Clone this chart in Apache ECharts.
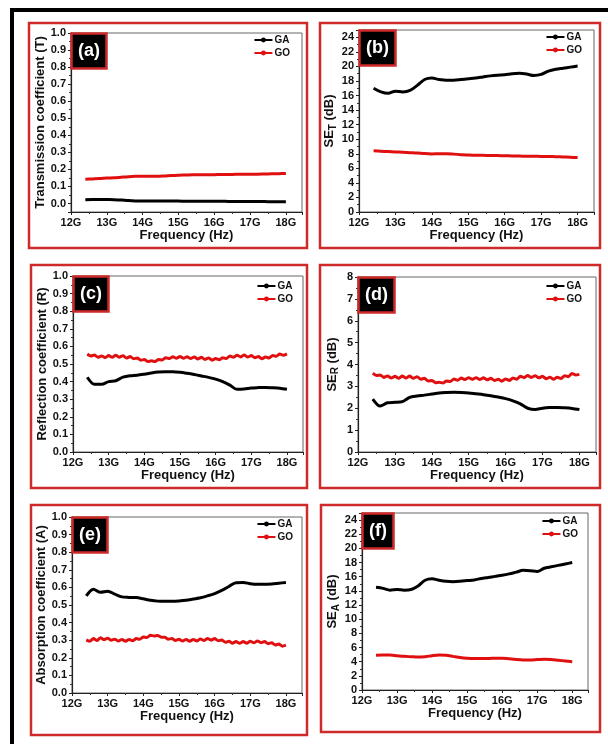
<!DOCTYPE html>
<html><head><meta charset="utf-8">
<script src="https://cdn.jsdelivr.net/npm/echarts@6/dist/echarts.min.js"></script>
<style>html,body{margin:0;padding:0;background:#fff}#c{width:608px;height:744px}</style>
</head><body><div id="c"></div><script>
// ---- data ----
const freq = [12.4,12.6,12.8,13.0,13.2,13.4,13.6,13.8,14.0,14.2,14.4,14.6,14.8,15.0,15.2,15.4,15.6,15.8,16.0,16.2,16.4,16.6,16.8,17.0,17.2,17.4,17.6,17.8,18.0];
const freqFine = [12.4,12.5,12.6,12.7,12.8,12.9,13.0,13.1,13.2,13.3,13.4,13.5,13.6,13.7,13.8,13.9,14.0,14.1,14.2,14.3,14.4,14.5,14.6,14.7,14.8,14.9,15.0,15.1,15.2,15.3,15.4,15.5,15.6,15.7,15.8,15.9,16.0,16.1,16.2,16.3,16.4,16.5,16.6,16.7,16.8,16.9,17.0,17.1,17.2,17.3,17.4,17.5,17.6,17.7,17.8,17.9,18.0];
const seriesNames = ['GA','GO'];
const panelTags = ['(a)','(b)','(c)','(d)','(e)','(f)'];

// (a) transmission coefficient
const transGA = [0.022,0.024,0.024,0.023,0.022,0.020,0.017,0.015,0.014,0.014,0.014,0.014,0.014,0.014,0.013,0.013,0.013,0.013,0.013,0.013,0.012,0.012,0.012,0.012,0.011,0.011,0.010,0.010,0.010];
const transGO = [0.142,0.144,0.146,0.149,0.151,0.154,0.157,0.159,0.160,0.159,0.159,0.161,0.164,0.166,0.167,0.168,0.168,0.169,0.169,0.170,0.170,0.171,0.171,0.172,0.172,0.173,0.174,0.175,0.176];
// (b) SE_T
const seTGA = [17.0,16.5,16.3,16.6,16.5,16.7,17.4,18.2,18.4,18.2,18.1,18.1,18.2,18.3,18.4,18.55,18.7,18.8,18.85,19.0,19.05,18.95,18.75,18.9,19.35,19.6,19.75,19.9,20.05];
const seTGO = [8.4,8.35,8.3,8.25,8.2,8.15,8.1,8.02,7.98,8.0,8.0,7.95,7.88,7.82,7.8,7.78,7.76,7.75,7.73,7.7,7.68,7.66,7.65,7.64,7.62,7.6,7.56,7.52,7.47];
// (c) reflection coefficient
const reflGA = [0.425,0.385,0.385,0.400,0.405,0.425,0.433,0.436,0.442,0.449,0.454,0.456,0.456,0.453,0.447,0.440,0.432,0.424,0.414,0.400,0.380,0.356,0.358,0.364,0.366,0.367,0.365,0.362,0.356];
const reflGO = [0.556,0.546,0.551,0.538,0.546,0.536,0.548,0.538,0.550,0.539,0.547,0.534,0.542,0.530,0.534,0.522,0.525,0.514,0.518,0.514,0.526,0.523,0.536,0.531,0.541,0.533,0.542,0.533,0.541,0.531,0.540,0.529,0.538,0.526,0.534,0.522,0.531,0.524,0.536,0.531,0.546,0.539,0.550,0.540,0.551,0.540,0.548,0.536,0.542,0.530,0.540,0.534,0.549,0.544,0.557,0.550,0.558];
// (d) SE_R
const seRGA = [2.42,2.10,2.25,2.27,2.30,2.50,2.56,2.60,2.65,2.70,2.72,2.73,2.72,2.70,2.66,2.62,2.57,2.51,2.44,2.34,2.20,2.00,1.94,2.00,2.03,2.04,2.02,1.99,1.94];
const seRGO = [3.60,3.50,3.52,3.41,3.48,3.38,3.46,3.37,3.47,3.38,3.47,3.37,3.44,3.33,3.37,3.25,3.27,3.17,3.19,3.15,3.25,3.22,3.34,3.28,3.38,3.31,3.40,3.32,3.40,3.31,3.39,3.30,3.37,3.27,3.33,3.24,3.34,3.27,3.38,3.33,3.46,3.40,3.50,3.41,3.49,3.39,3.46,3.35,3.42,3.33,3.42,3.36,3.49,3.44,3.59,3.52,3.55];
// (e) absorption coefficient
const absGA = [0.552,0.590,0.572,0.578,0.562,0.546,0.543,0.542,0.535,0.527,0.522,0.521,0.521,0.523,0.527,0.534,0.541,0.552,0.565,0.583,0.605,0.627,0.628,0.621,0.618,0.618,0.620,0.624,0.628];
const absGO = [0.302,0.294,0.309,0.298,0.314,0.303,0.311,0.300,0.306,0.295,0.304,0.294,0.304,0.297,0.309,0.305,0.318,0.316,0.328,0.324,0.327,0.317,0.317,0.306,0.309,0.298,0.305,0.295,0.304,0.294,0.304,0.296,0.307,0.298,0.310,0.300,0.309,0.297,0.301,0.288,0.294,0.283,0.292,0.282,0.292,0.283,0.294,0.285,0.296,0.286,0.293,0.280,0.286,0.273,0.278,0.266,0.272];
// (f) SE_A
const seAGA = [14.5,14.35,14.1,14.2,14.1,14.2,14.7,15.5,15.7,15.5,15.35,15.3,15.35,15.45,15.55,15.75,15.9,16.05,16.2,16.4,16.65,16.9,16.85,16.75,17.2,17.4,17.6,17.8,18.0];
const seAGO = [4.9,4.95,4.95,4.85,4.75,4.7,4.65,4.7,4.85,4.95,4.9,4.75,4.6,4.5,4.45,4.45,4.45,4.5,4.5,4.4,4.3,4.25,4.25,4.3,4.35,4.3,4.2,4.1,4.0];

// ---- layout / style ----
const FONT = '"Liberation Sans", Arial, sans-serif';
const RED_BOX = '#cf2a2a';
const GO_RED = '#e01010';
const panels = [
  {grid:{left:71,top:33,width:231,height:179}, yName:'Transmission coefficient (T)', yMin:-0.05, yMax:1, yStep:0.1, dec:1, nameGap:21, legend:{right:318,top:35},
   ga:[freq,transGA], go:[freq,transGO], box:[29,23,278,225]},
  {grid:{left:359,top:30,width:235,height:182}, yName:'SE{s|T} (dB)', yMin:0, yMax:25, yStep:2, dec:0, nameGap:19, legend:{right:26,top:32},
   ga:[freq,seTGA], go:[freq,seTGO], box:[320,23,280,225]},
  {grid:{left:73,top:276,width:230,height:176}, yName:'Reflection coefficient (R)', yMin:0, yMax:1, yStep:0.1, dec:1, nameGap:23, legend:{right:315,top:281},
   ga:[freq,reflGA], go:[freqFine,reflGO], box:[31,265,276,223]},
  {grid:{left:358,top:277,width:238,height:175}, yName:'SE{s|R} (dB)', yMin:0, yMax:8, yStep:1, dec:0, nameGap:18, legend:{right:26,top:281},
   ga:[freq,seRGA], go:[freqFine,seRGO], box:[320,265,280,223]},
  {grid:{left:72,top:517,width:230,height:176}, yName:'Absorption coefficient (A)', yMin:0, yMax:1, yStep:0.1, dec:1, nameGap:23, legend:{right:315,top:519},
   ga:[freq,absGA], go:[freqFine,absGO], box:[31,505,276,230]},
  {grid:{left:362,top:513,width:226,height:177}, yName:'SE{s|A} (dB)', yMin:0, yMax:25, yStep:2, dec:0, nameGap:21, legend:{right:30,top:516},
   ga:[freq,seAGA], go:[freq,seAGO], box:[321,505,279,227]}
];

const isMult = (v, step) => Math.abs(v / step - Math.round(v / step)) < 1e-6;
const grids = [], xAxes = [], yAxes = [], series = [], legends = [], titles = [], graphics = [];
panels.forEach((p, i) => {
  grids.push(Object.assign({show:true, borderColor:'#666', borderWidth:1, containLabel:false}, p.grid));
  xAxes.push({type:'value', gridIndex:i, min:12, max:18.45, interval:1,
    name:'Frequency (Hz)', nameLocation:'middle', nameGap:17,
    nameTextStyle:{fontFamily:FONT, fontWeight:'bold', fontSize:13, color:'#111'},
    axisLine:{show:true, onZero:false, lineStyle:{color:'#222', width:1.2}},
    axisTick:{show:true, inside:false, length:3, lineStyle:{color:'#222'}},
    minorTick:{show:true, splitNumber:2, length:2, lineStyle:{color:'#333'}},
    splitLine:{show:false},
    axisLabel:{margin:5, fontFamily:FONT, fontWeight:'bold', fontSize:11, color:'#111',
      formatter:v => isMult(v, 1) ? Math.round(v) + 'G' : ''}
  });
  const yAx = {type:'value', gridIndex:i, min:p.yMin, max:p.yMax,
    name:p.yName, nameLocation:'middle', nameGap:p.nameGap,
    nameTextStyle:{fontFamily:FONT, fontWeight:'bold', fontSize:13, color:'#111',
      rich:{s:{fontFamily:FONT, fontWeight:'bold', fontSize:10, color:'#111', verticalAlign:'bottom', padding:[6,0,0,0]}}},
    axisLine:{show:true, onZero:false, lineStyle:{color:'#222', width:1.2}},
    axisTick:{show:true, inside:false, length:3, lineStyle:{color:'#222'}},
    minorTick:{show:true, splitNumber:2, length:2, lineStyle:{color:'#333'}},
    splitLine:{show:false},
    axisLabel:{margin:5, fontFamily:FONT, fontWeight:'bold', fontSize:11, color:'#111',
      showMaxLabel: isMult(p.yMax, p.yStep),
      formatter:v => (v < -1e-9 || !isMult(v, p.yStep)) ? '' : v.toFixed(p.dec)}
  };
  if (p.yMin < 0) { yAx.minInterval = p.yStep; yAx.maxInterval = p.yStep; yAx.splitNumber = 10; }
  else { yAx.interval = p.yStep; }
  yAxes.push(yAx);
  const mk = (name, xs, ys, color, smooth) => ({
    type:'line', name, xAxisIndex:i, yAxisIndex:i,
    data: xs.map((x, k) => [x, ys[k]]),
    showSymbol:false, symbol:'circle', symbolSize:4, smooth,
    lineStyle:{width:3, color}, itemStyle:{color}, animation:false, z:3
  });
  series.push(mk(seriesNames[0], p.ga[0], p.ga[1], '#000', 0.3));
  series.push(mk(seriesNames[1], p.go[0], p.go[1], GO_RED, p.go[0] === freqFine ? 0.2 : 0.3));
  legends.push({orient:'vertical', right:p.legend.right, top:p.legend.top, data:seriesNames,
    itemWidth:18, itemHeight:6, itemGap:3, padding:0, selectedMode:false,
    lineStyle:{width:2}, textStyle:{fontFamily:FONT, fontWeight:'bold', fontSize:10, color:'#111', padding:[0,0,0,-3]}});
  titles.push({text:panelTags[i], left:p.grid.left, top:p.grid.top, backgroundColor:'#000',
    borderColor:RED_BOX, borderWidth:2.5, padding:[9,7,9,7], z:10,
    textStyle:{color:'#fff', fontSize:18, fontWeight:'bold', fontFamily:FONT, lineHeight:18}});
  graphics.push({type:'rect', shape:{x:p.box[0], y:p.box[1], width:p.box[2], height:p.box[3]},
    style:{fill:'none', stroke:RED_BOX, lineWidth:2.5}, z:1, silent:true});
});
graphics.push({type:'line', shape:{x1:10, y1:10, x2:608, y2:10}, style:{stroke:'#000', lineWidth:4}, silent:true});
graphics.push({type:'line', shape:{x1:12, y1:8, x2:12, y2:744}, style:{stroke:'#000', lineWidth:4}, silent:true});

const chart = echarts.init(document.getElementById('c'), null, {renderer:'canvas'});
chart.setOption({
  animation:false, backgroundColor:'#fff',
  title:titles, legend:legends, grid:grids, xAxis:xAxes, yAxis:yAxes, series, graphic:graphics
});
</script></body></html>
